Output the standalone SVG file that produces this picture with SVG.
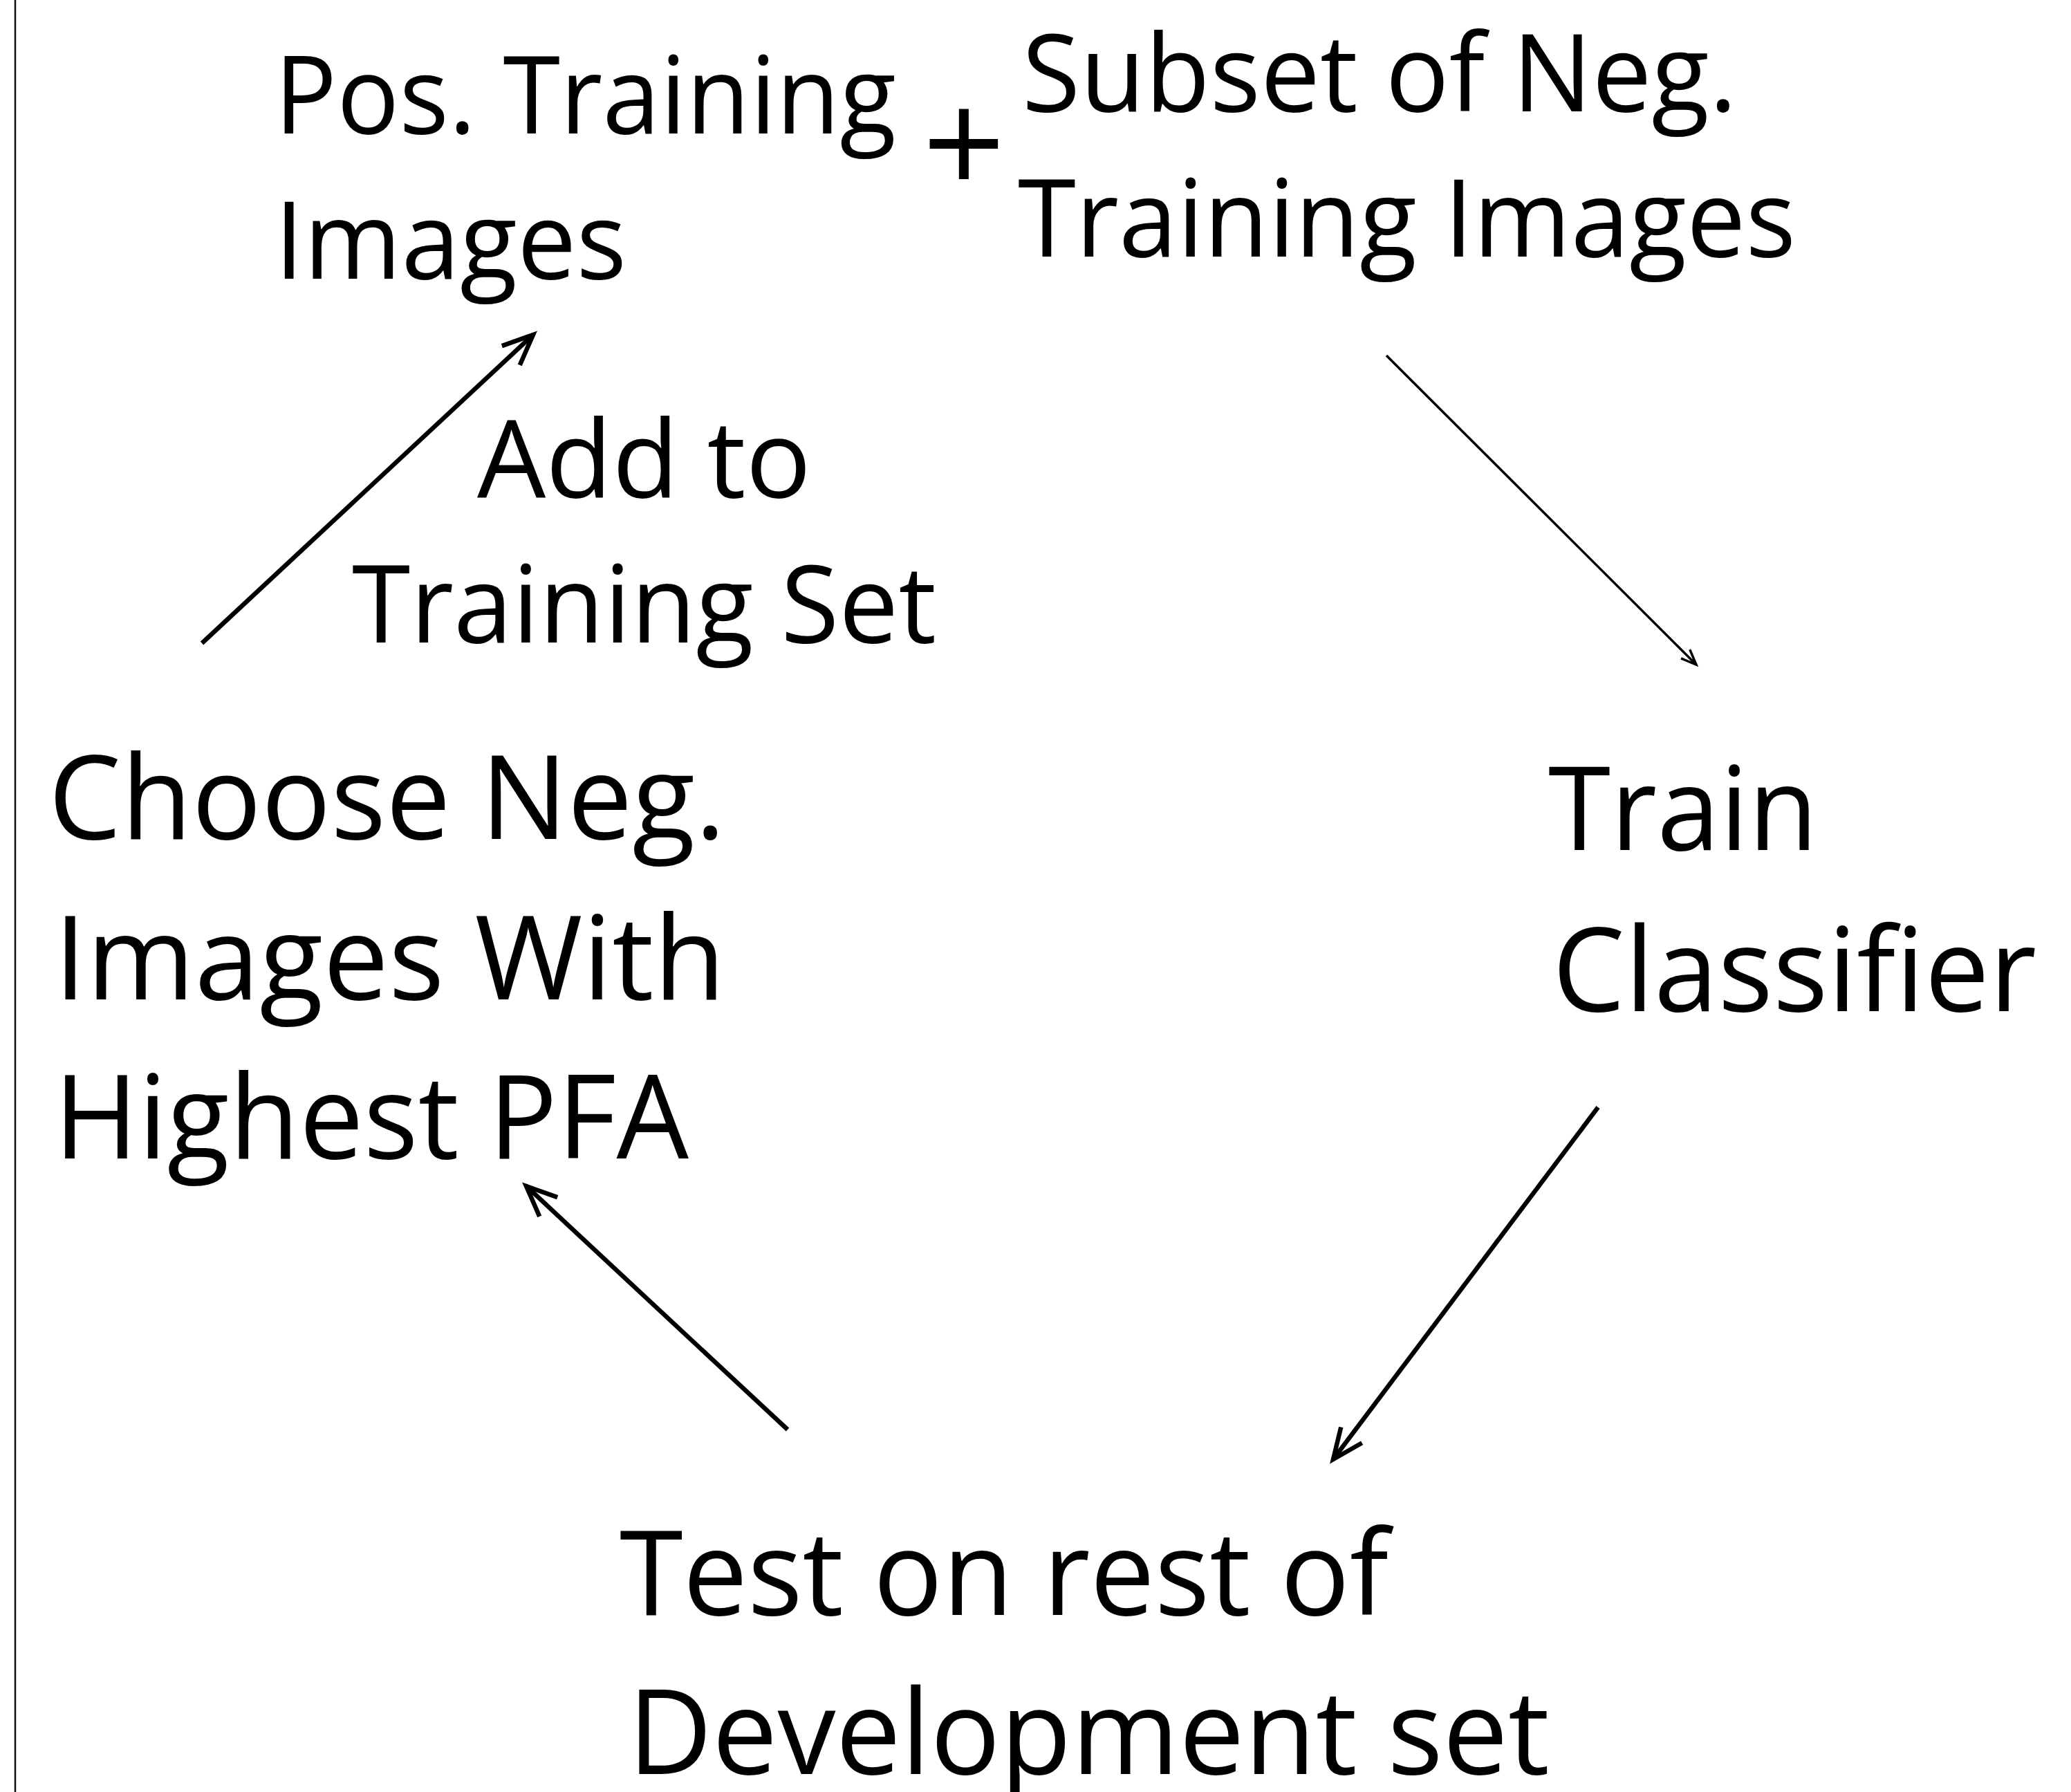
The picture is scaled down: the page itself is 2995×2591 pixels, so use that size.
<svg xmlns="http://www.w3.org/2000/svg" width="2995" height="2591" viewBox="0 0 2995 2591">
  <style>
    .lbl { font-family: "Open Sans", "Liberation Sans", sans-serif; fill: #000; }
    .s1 { font-size: 155px; }
    .s2 { font-size: 168px; }
    .s3 { font-size: 171px; }
    .edge { fill: none; stroke: #000; stroke-linecap: butt; }
    .thick { stroke-width: 6.5; }
    .thin { stroke-width: 3.5; }
  </style>
  <defs>
    <marker id="head" viewBox="-50 -25 60 50" refX="0" refY="0" markerWidth="60" markerHeight="50" markerUnits="userSpaceOnUse" orient="auto">
      <path d="M -44 -19 L 0 0 L -44 19" fill="none" stroke="#000" stroke-width="6.5" stroke-linejoin="miter"/>
    </marker>
    <marker id="headSmall" viewBox="-30 -15 36 30" refX="0" refY="0" markerWidth="36" markerHeight="30" markerUnits="userSpaceOnUse" orient="auto">
      <path d="M -22 -9 L 0 0 L -22 9" fill="none" stroke="#000" stroke-width="3.5"/>
    </marker>
  </defs>

  <rect x="0" y="0" width="2995" height="2591" fill="#fff"/>
  <!-- page edge on the left -->
  <line x1="22" y1="0" x2="22" y2="2591" stroke="#111" stroke-width="2.5"/>

  <g id="node-positives">
    <text class="lbl s1" x="397" y="193" textLength="899" lengthAdjust="spacingAndGlyphs">Pos. Training</text>
    <text class="lbl s1" x="397" y="403" textLength="509" lengthAdjust="spacingAndGlyphs">Images</text>
  </g>

  <g id="node-plus">
    <text class="lbl" x="1394" y="283" font-size="210" text-anchor="middle">+</text>
  </g>

  <g id="node-negatives">
    <text class="lbl s1" x="1478" y="161" textLength="1034" lengthAdjust="spacingAndGlyphs">Subset of Neg.</text>
    <text class="lbl s1" x="1472" y="371" textLength="1125" lengthAdjust="spacingAndGlyphs">Training Images</text>
  </g>

  <g id="node-train">
    <text class="lbl s2" x="2239" y="1229" textLength="390" lengthAdjust="spacingAndGlyphs">Train</text>
    <text class="lbl s2" x="2245" y="1462" textLength="700" lengthAdjust="spacingAndGlyphs">Classifier</text>
  </g>

  <g id="node-test">
    <text class="lbl s3" x="896" y="2335" textLength="1112" lengthAdjust="spacingAndGlyphs">Test on rest of</text>
    <text class="lbl s3" x="908" y="2565" textLength="1333" lengthAdjust="spacingAndGlyphs">Development set</text>
  </g>

  <g id="node-choose">
    <text class="lbl s2" x="70" y="1213" textLength="979" lengthAdjust="spacingAndGlyphs">Choose Neg.</text>
    <text class="lbl s2" x="78" y="1445" textLength="971" lengthAdjust="spacingAndGlyphs">Images With</text>
    <text class="lbl s2" x="78" y="1675" textLength="918" lengthAdjust="spacingAndGlyphs">Highest PFA</text>
  </g>

  <g id="label-add">
    <text class="lbl s1" x="690" y="719" textLength="483" lengthAdjust="spacingAndGlyphs">Add to</text>
    <text class="lbl s1" x="509" y="929" textLength="845" lengthAdjust="spacingAndGlyphs">Training Set</text>
  </g>

  <g id="connectors">
    <line class="edge thin" x1="2005" y1="514" x2="2453" y2="961" marker-end="url(#headSmall)"/>
    <line class="edge thick" x1="2311" y1="1601" x2="1928" y2="2110" marker-end="url(#head)"/>
    <line class="edge thick" x1="1139" y1="2067" x2="761" y2="1715" marker-end="url(#head)"/>
    <line class="edge thick" x1="292" y1="930" x2="771" y2="484" marker-end="url(#head)"/>
  </g>
</svg>
